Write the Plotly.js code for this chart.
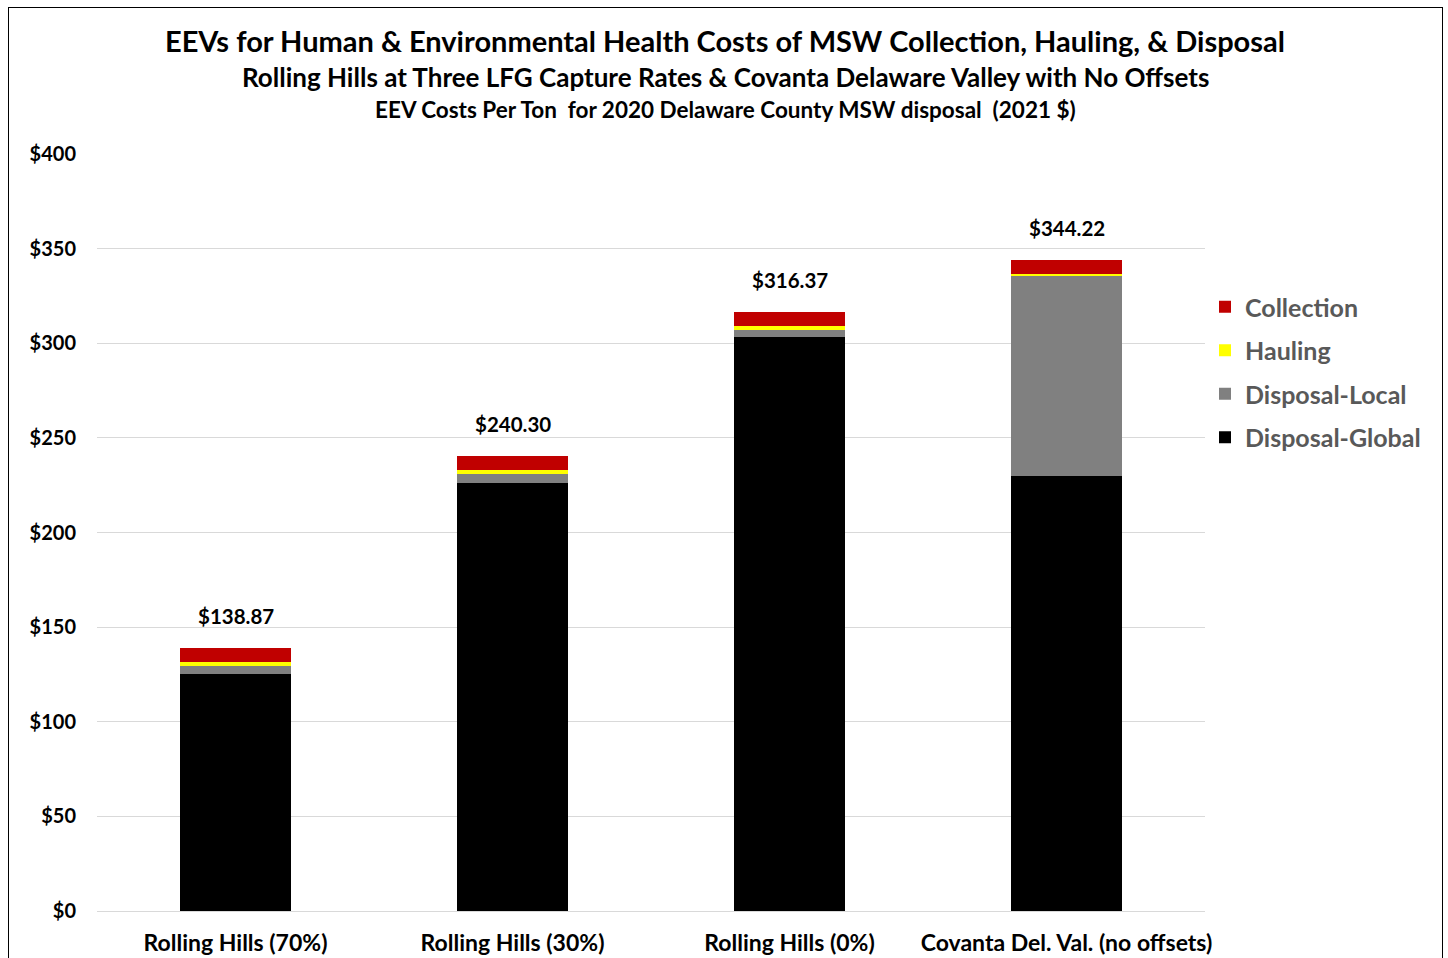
<!DOCTYPE html>
<html><head><meta charset="utf-8">
<script src="https://cdn.plot.ly/plotly-3.0.1.min.js"></script>
<style>
html,body{margin:0;padding:0;background:#fff;}
#frame{position:absolute;left:8px;top:7px;width:1435px;height:960px;border:1.5px solid #000;box-sizing:border-box;}
#chart{position:absolute;left:0;top:0;width:1448px;height:958px;}
</style></head>
<body>
<div id="frame"></div>
<div id="chart"></div>
<script>
const categories = ["Rolling Hills (70%)", "Rolling Hills (30%)", "Rolling Hills (0%)", "Covanta Del. Val. (no offsets)"];
const disposalGlobal = [124.97, 226.30, 303.27, 230.02];
const disposalLocal = [4.4, 4.5, 3.7, 105.3];
const hauling = [2.1, 2.1, 2.0, 1.4];
const collection = [7.4, 7.4, 7.4, 7.5];
const totals = [138.87, 240.30, 316.37, 344.22];
const yTickVals = [0, 50, 100, 150, 200, 250, 300, 350, 400];
const yTickText = yTickVals.map(v => '$' + v);

const FONT = "Lato, 'Noto Sans', sans-serif";
function mk(name, y, color, grp, rank) {
  return {type: 'bar', name: name, x: categories, y: y, legendgroup: grp, legendrank: rank,
    marker: {color: color, line: {width: 0}}, hoverinfo: 'skip'};
}
const traces = [
  mk('Disposal-Global', disposalGlobal, '#000000', 'g4', 4),
  mk('Disposal-Local', disposalLocal, '#808080', 'g3', 3),
  mk('Hauling', hauling, '#FFFF00', 'g2', 2),
  mk('Collection', collection, '#C00000', 'g1', 1)
];
const annotations = categories.map((c, i) => ({
  x: c, y: totals[i], xref: 'x', yref: 'y', text: '$' + totals[i].toFixed(2),
  showarrow: false, yanchor: 'bottom', yshift: 18,
  font: {family: FONT, size: 20.5, color: '#000', weight: 'bold'}
}));
annotations.push(
  {xref: 'paper', yref: 'paper', x: 0.5, y: 0, xanchor: 'center', yanchor: 'middle', text: 'EEVs for Human & Environmental Health Costs of MSW Collection, Hauling, & Disposal', showarrow: false, font: {family: FONT, size: 29, color: '#000', weight: 'bold'}},
  {xref: 'paper', yref: 'paper', x: 0.5, y: 0, xanchor: 'center', yanchor: 'middle', text: 'Rolling Hills at Three LFG Capture Rates & Covanta Delaware Valley with No Offsets', showarrow: false, font: {family: FONT, size: 26, color: '#000', weight: 'bold'}},
  {xref: 'paper', yref: 'paper', x: 0.5, y: 0, xanchor: 'center', yanchor: 'middle', text: 'EEV Costs Per Ton  for 2020 Delaware County MSW disposal  (2021 $)', showarrow: false, font: {family: FONT, size: 22.5, color: '#000', weight: 'bold'}}
);
const plotTop = 154, plotBot = 911, h = plotBot - plotTop;
const titleYs = [40, 77, 110];
const plotL = 97, plotR = 1205, w = plotR - plotL;
for (let k = 0; k < 3; k++) {
  const a = annotations[categories.length + k];
  a.y = (plotBot - titleYs[k]) / h;
  a.x = (725 - plotL) / w;
}
const layout = {
  width: 1448, height: 958,
  margin: {l: plotL, r: 1448 - plotR, t: plotTop, b: 958 - plotBot},
  paper_bgcolor: 'rgba(0,0,0,0)', plot_bgcolor: 'rgba(0,0,0,0)',
  barmode: 'stack', bargap: 0.6,
  showlegend: true,
  legend: {x: 1.0, xanchor: 'left', y: (plotBot - 284) / h, yanchor: 'top',
    traceorder: 'grouped', tracegroupgap: 8,
    font: {family: FONT, size: 25, color: '#595959', weight: 'bold'}, itemwidth: 30},
  xaxis: {tickfont: {family: FONT, size: 23, color: '#000', weight: 'bold'}, showline: false, ticks: '', ticklabelstandoff: 16},
  yaxis: {range: [0, 400], tickvals: yTickVals, ticktext: yTickText,
    tickfont: {family: FONT, size: 20, color: '#000', weight: 'bold'},
    gridcolor: '#D9D9D9', gridwidth: 1, zeroline: true, zerolinecolor: '#D9D9D9', zerolinewidth: 1,
    showline: false, ticks: '', ticklabelstandoff: 20},
  annotations: annotations
};
Plotly.newPlot('chart', traces, layout, {displayModeBar: false, staticPlot: true});
</script>
</body></html>
